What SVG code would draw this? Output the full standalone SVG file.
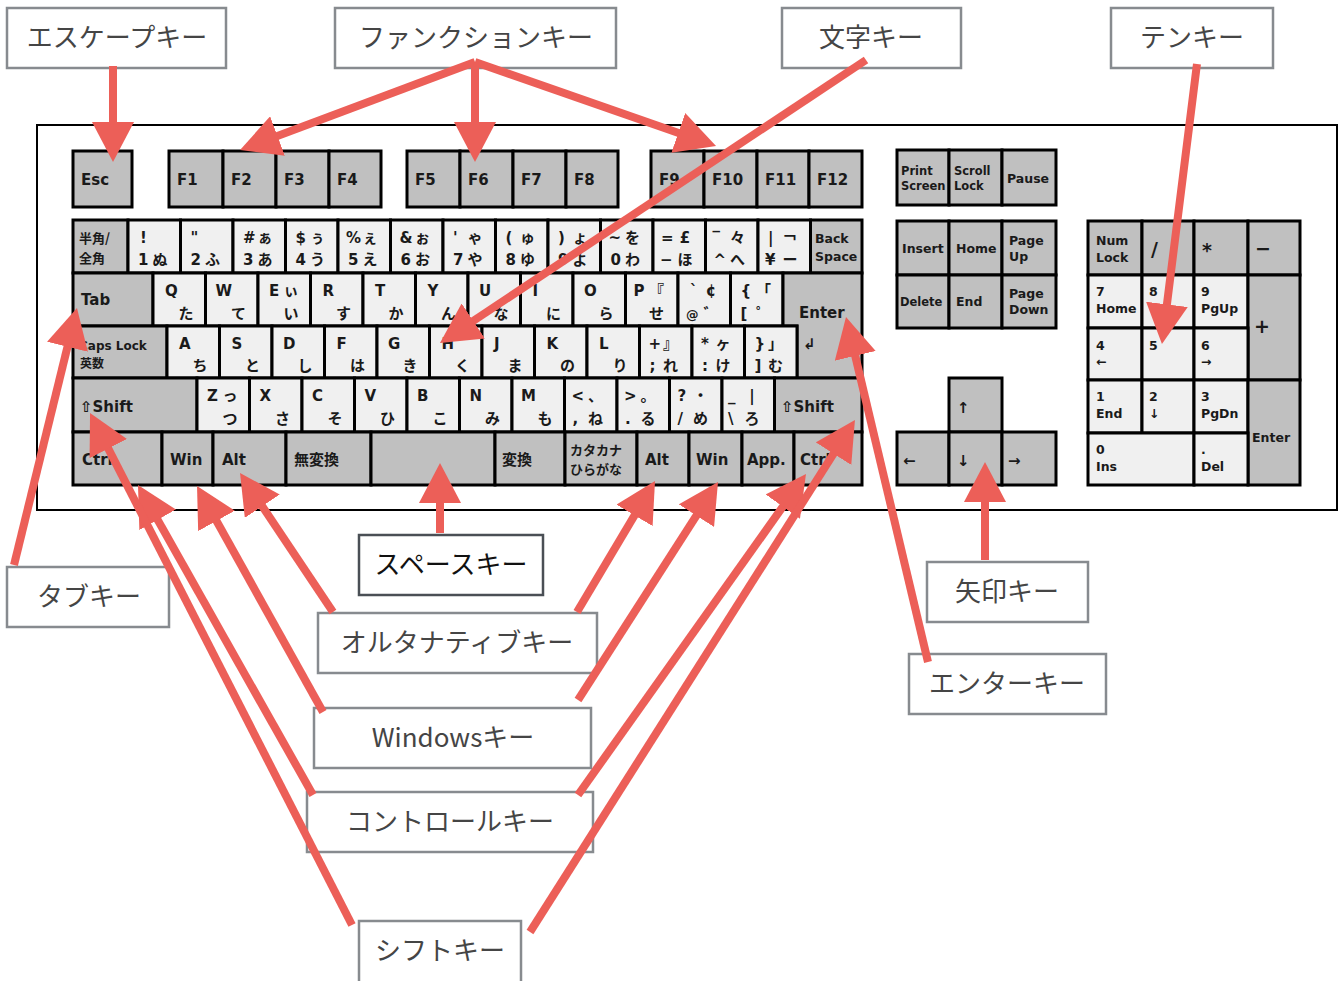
<svg xmlns="http://www.w3.org/2000/svg" width="1341" height="981" viewBox="0 0 1341 981">
<style>
.k{stroke:#000;stroke-width:3}
.g{fill:#c0c0c0}
.l{fill:#f0f0f0}
.t{font-family:"DejaVu Sans","Noto Sans CJK JP",sans-serif;font-weight:700;font-size:15px;fill:#1a1a1a}
.j{font-family:"Noto Sans CJK JP",sans-serif}
.m{text-anchor:middle}
.s{font-size:12.5px}
.x{font-size:11.5px}
.y{font-size:12px}
.z{font-size:13px}
.b{font-size:19px}
.lbl{fill:#fff;stroke:#878b8f;stroke-width:2.5}
.lt{font-family:"Noto Sans CJK JP","Noto Sans",sans-serif;font-size:26px;fill:#454545;text-anchor:middle;dominant-baseline:central}
.arr{stroke:#ec5f58;stroke-width:8;fill:none;stroke-linecap:butt;marker-end:url(#ah)}
</style>
<defs>
<marker id="ah" viewBox="0 0 40 42" refX="30" refY="21" markerWidth="40" markerHeight="42" markerUnits="userSpaceOnUse" orient="auto"><path d="M0,0L40,21L0,42z" fill="#ec5f58"/></marker>
</defs>
<rect width="1341" height="981" fill="#fff"/>
<g id="keyboard">
<rect x="37" y="125" width="1300" height="385" fill="#fff" stroke="#000" stroke-width="2"/>
<!-- function row -->
<g id="k-esc"><rect class="k g" x="73" y="151" width="59" height="56"/><text class="t" x="81" y="185">Esc</text></g>
<g id="k-f1"><rect class="k g" x="169" y="151" width="54" height="56"/><text class="t" x="177" y="185">F1</text></g>
<g id="k-f2"><rect class="k g" x="223" y="151" width="53" height="56"/><text class="t" x="231" y="185">F2</text></g>
<g id="k-f3"><rect class="k g" x="276" y="151" width="53" height="56"/><text class="t" x="284" y="185">F3</text></g>
<g id="k-f4"><rect class="k g" x="329" y="151" width="52" height="56"/><text class="t" x="337" y="185">F4</text></g>
<g id="k-f5"><rect class="k g" x="407" y="151" width="53" height="56"/><text class="t" x="415" y="185">F5</text></g>
<g id="k-f6"><rect class="k g" x="460" y="151" width="53" height="56"/><text class="t" x="468" y="185">F6</text></g>
<g id="k-f7"><rect class="k g" x="513" y="151" width="53" height="56"/><text class="t" x="521" y="185">F7</text></g>
<g id="k-f8"><rect class="k g" x="566" y="151" width="52" height="56"/><text class="t" x="574" y="185">F8</text></g>
<g id="k-f9"><rect class="k g" x="651" y="151" width="53" height="56"/><text class="t" x="659" y="185">F9</text></g>
<g id="k-f10"><rect class="k g" x="704" y="151" width="53" height="56"/><text class="t" x="712" y="185">F10</text></g>
<g id="k-f11"><rect class="k g" x="757" y="151" width="52" height="56"/><text class="t" x="765" y="185">F11</text></g>
<g id="k-f12"><rect class="k g" x="809" y="151" width="53" height="56"/><text class="t" x="817" y="185">F12</text></g>
<!-- number row -->
<g id="k-hankaku"><rect class="k g" x="73" y="220" width="55" height="53"/><text class="t j z" x="79" y="243">半角/</text><text class="t j z" x="79" y="263">全角</text></g>
<g id="k-1"><rect class="k l" x="128" y="220" width="52.5" height="53"/><text class="t" x="140" y="243">!</text><text class="t" x="138" y="265">1</text><text class="t m" x="160" y="265">ぬ</text></g>
<g id="k-2"><rect class="k l" x="180.5" y="220" width="52.5" height="53"/><text class="t" x="190.5" y="243">"</text><text class="t" x="190.5" y="265">2</text><text class="t m" x="212.5" y="265">ふ</text></g>
<g id="k-3"><rect class="k l" x="233" y="220" width="52.5" height="53"/><text class="t" x="243" y="243">#</text><text class="t m" x="265" y="243">ぁ</text><text class="t" x="243" y="265">3</text><text class="t m" x="265" y="265">あ</text></g>
<g id="k-4"><rect class="k l" x="285.5" y="220" width="52.5" height="53"/><text class="t" x="295.5" y="243">$</text><text class="t m" x="317.5" y="243">ぅ</text><text class="t" x="295.5" y="265">4</text><text class="t m" x="317.5" y="265">う</text></g>
<g id="k-5"><rect class="k l" x="338" y="220" width="52.5" height="53"/><text class="t" x="346" y="243">%</text><text class="t m" x="370" y="243">ぇ</text><text class="t" x="348" y="265">5</text><text class="t m" x="370" y="265">え</text></g>
<g id="k-6"><rect class="k l" x="390.5" y="220" width="52.5" height="53"/><text class="t" x="399.5" y="243">&amp;</text><text class="t m" x="422.5" y="243">ぉ</text><text class="t" x="400.5" y="265">6</text><text class="t m" x="422.5" y="265">お</text></g>
<g id="k-7"><rect class="k l" x="443" y="220" width="52.5" height="53"/><text class="t" x="453" y="243">'</text><text class="t m" x="475" y="243">ゃ</text><text class="t" x="453" y="265">7</text><text class="t m" x="475" y="265">や</text></g>
<g id="k-8"><rect class="k l" x="495.5" y="220" width="52.5" height="53"/><text class="t" x="505.5" y="243">(</text><text class="t m" x="527.5" y="243">ゅ</text><text class="t" x="505.5" y="265">8</text><text class="t m" x="527.5" y="265">ゆ</text></g>
<g id="k-9"><rect class="k l" x="548" y="220" width="52.5" height="53"/><text class="t" x="558" y="243">)</text><text class="t m" x="580" y="243">ょ</text><text class="t" x="558" y="265">9</text><text class="t m" x="580" y="265">よ</text></g>
<g id="k-0"><rect class="k l" x="600.5" y="220" width="52.5" height="53"/><text class="t" x="608.5" y="243">~</text><text class="t m" x="632.5" y="243">を</text><text class="t" x="610.5" y="265">0</text><text class="t m" x="632.5" y="265">わ</text></g>
<g id="k-minus"><rect class="k l" x="653" y="220" width="52.5" height="53"/><text class="t" x="661" y="243">=</text><text class="t m" x="685" y="243">£</text><text class="t" x="660" y="265">−</text><text class="t m" x="685" y="265">ほ</text></g>
<g id="k-caret"><rect class="k l" x="705.5" y="220" width="52.5" height="53"/><text class="t" x="712.5" y="243">‾</text><text class="t m" x="737.5" y="243">々</text><text class="t" x="713.5" y="265">^</text><text class="t m" x="737.5" y="265">へ</text></g>
<g id="k-yen"><rect class="k l" x="758" y="220" width="52.5" height="53"/><text class="t" x="768" y="243">|</text><text class="t m" x="790" y="243">￢</text><text class="t" x="765" y="265">¥</text><text class="t m" x="790" y="265">ー</text></g>
<g id="k-bs"><rect class="k g" x="810.5" y="220" width="51.5" height="53"/><text class="t s" x="815" y="243">Back</text><text class="t s" x="815" y="261">Space</text></g>
<!-- Q row -->
<g id="k-tab"><rect class="k g" x="73" y="273" width="80" height="53"/><text class="t" x="81" y="305">Tab</text></g>
<g id="k-q"><rect class="k l" x="153" y="273" width="52.5" height="53"/><text class="t" x="165" y="296">Q</text><text class="t m" x="186" y="319">た</text></g>
<g id="k-w"><rect class="k l" x="205.5" y="273" width="52.5" height="53"/><text class="t" x="215.5" y="296">W</text><text class="t m" x="238.5" y="319">て</text></g>
<g id="k-e"><rect class="k l" x="258" y="273" width="52.5" height="53"/><text class="t" x="269" y="296">E</text><text class="t m" x="291" y="296">ぃ</text><text class="t m" x="291" y="319">い</text></g>
<g id="k-r"><rect class="k l" x="310.5" y="273" width="52.5" height="53"/><text class="t" x="322.5" y="296">R</text><text class="t m" x="343.5" y="319">す</text></g>
<g id="k-t"><rect class="k l" x="363" y="273" width="52.5" height="53"/><text class="t" x="375" y="296">T</text><text class="t m" x="396" y="319">か</text></g>
<g id="k-y"><rect class="k l" x="415.5" y="273" width="52.5" height="53"/><text class="t" x="427.5" y="296">Y</text><text class="t m" x="448.5" y="319">ん</text></g>
<g id="k-u"><rect class="k l" x="468" y="273" width="52.5" height="53"/><text class="t" x="479" y="296">U</text><text class="t m" x="501" y="319">な</text></g>
<g id="k-i"><rect class="k l" x="520.5" y="273" width="52.5" height="53"/><text class="t" x="532.5" y="296">I</text><text class="t m" x="553.5" y="319">に</text></g>
<g id="k-o"><rect class="k l" x="573" y="273" width="52.5" height="53"/><text class="t" x="584" y="296">O</text><text class="t m" x="606" y="319">ら</text></g>
<g id="k-p"><rect class="k l" x="625.5" y="273" width="52.5" height="53"/><text class="t" x="633.5" y="296">P</text><text class="t m" x="656.5" y="296">『</text><text class="t m" x="656.5" y="319">せ</text></g>
<g id="k-at"><rect class="k l" x="678" y="273" width="52.5" height="53"/><text class="t" x="690" y="296">`</text><text class="t m" x="711" y="296">¢</text><text class="t s" x="686" y="319">@</text><text class="t m" x="711" y="319">゛</text></g>
<g id="k-lbr"><rect class="k l" x="730.5" y="273" width="52.5" height="53"/><text class="t" x="740.5" y="296">{</text><text class="t m" x="763.5" y="296">「</text><text class="t" x="740.5" y="319">[</text><text class="t m" x="763.5" y="319">゜</text></g>
<g id="k-enter"><path class="k g" d="M783,273H862V378H797V326H783Z"/><text class="t" x="799" y="318">Enter</text><text class="t" x="803" y="349">↲</text></g>
<!-- A row -->
<g id="k-caps"><rect class="k g" x="73" y="326" width="94" height="52"/><text class="t y" x="79" y="350">Caps Lock</text><text class="t j y" x="80" y="368">英数</text></g>
<g id="k-a"><rect class="k l" x="167" y="326" width="52.5" height="52"/><text class="t" x="179" y="349">A</text><text class="t m" x="200" y="371">ち</text></g>
<g id="k-s"><rect class="k l" x="219.5" y="326" width="52.5" height="52"/><text class="t" x="231.5" y="349">S</text><text class="t m" x="252.5" y="371">と</text></g>
<g id="k-d"><rect class="k l" x="272" y="326" width="52.5" height="52"/><text class="t" x="283" y="349">D</text><text class="t m" x="305" y="371">し</text></g>
<g id="k-f"><rect class="k l" x="324.5" y="326" width="52.5" height="52"/><text class="t" x="336.5" y="349">F</text><text class="t m" x="357.5" y="371">は</text></g>
<g id="k-g"><rect class="k l" x="377" y="326" width="52.5" height="52"/><text class="t" x="388" y="349">G</text><text class="t m" x="410" y="371">き</text></g>
<g id="k-h"><rect class="k l" x="429.5" y="326" width="52.5" height="52"/><text class="t" x="441.5" y="349">H</text><text class="t m" x="462.5" y="371">く</text></g>
<g id="k-j"><rect class="k l" x="482" y="326" width="52.5" height="52"/><text class="t" x="494" y="349">J</text><text class="t m" x="515" y="371">ま</text></g>
<g id="k-k"><rect class="k l" x="534.5" y="326" width="52.5" height="52"/><text class="t" x="546.5" y="349">K</text><text class="t m" x="567.5" y="371">の</text></g>
<g id="k-l"><rect class="k l" x="587" y="326" width="52.5" height="52"/><text class="t" x="599" y="349">L</text><text class="t m" x="620" y="371">り</text></g>
<g id="k-semi"><rect class="k l" x="639.5" y="326" width="52.5" height="52"/><text class="t" x="648.5" y="349">+</text><text class="t m" x="670.5" y="349">』</text><text class="t" x="649.5" y="371">;</text><text class="t m" x="670.5" y="371">れ</text></g>
<g id="k-colon"><rect class="k l" x="692" y="326" width="52.5" height="52"/><text class="t" x="701" y="349">*</text><text class="t m" x="723" y="349">ヶ</text><text class="t" x="702" y="371">:</text><text class="t m" x="723" y="371">け</text></g>
<g id="k-rbr"><rect class="k l" x="744.5" y="326" width="52.5" height="52"/><text class="t" x="754.5" y="349">}</text><text class="t m" x="775.5" y="349">」</text><text class="t" x="754.5" y="371">]</text><text class="t m" x="775.5" y="371">む</text></g>
<!-- Z row -->
<g id="k-lshift"><rect class="k g" x="73" y="378" width="124" height="54"/><text class="t" x="80" y="412">⇧Shift</text></g>
<g id="k-z"><rect class="k l" x="197" y="378" width="52.5" height="54"/><text class="t" x="207" y="401">Z</text><text class="t m" x="230" y="401">っ</text><text class="t m" x="230" y="424">つ</text></g>
<g id="k-x"><rect class="k l" x="249.5" y="378" width="52.5" height="54"/><text class="t" x="259.5" y="401">X</text><text class="t m" x="282.5" y="424">さ</text></g>
<g id="k-c"><rect class="k l" x="302" y="378" width="52.5" height="54"/><text class="t" x="312" y="401">C</text><text class="t m" x="335" y="424">そ</text></g>
<g id="k-v"><rect class="k l" x="354.5" y="378" width="52.5" height="54"/><text class="t" x="364.5" y="401">V</text><text class="t m" x="387.5" y="424">ひ</text></g>
<g id="k-b"><rect class="k l" x="407" y="378" width="52.5" height="54"/><text class="t" x="417" y="401">B</text><text class="t m" x="440" y="424">こ</text></g>
<g id="k-n"><rect class="k l" x="459.5" y="378" width="52.5" height="54"/><text class="t" x="469.5" y="401">N</text><text class="t m" x="492.5" y="424">み</text></g>
<g id="k-m"><rect class="k l" x="512" y="378" width="52.5" height="54"/><text class="t" x="521" y="401">M</text><text class="t m" x="545" y="424">も</text></g>
<g id="k-comma"><rect class="k l" x="564.5" y="378" width="52.5" height="54"/><text class="t" x="571.5" y="401">&lt;</text><text class="t m" x="595.5" y="401">、</text><text class="t" x="572.5" y="424">,</text><text class="t m" x="595.5" y="424">ね</text></g>
<g id="k-period"><rect class="k l" x="617" y="378" width="52.5" height="54"/><text class="t" x="624" y="401">&gt;</text><text class="t m" x="648" y="401">。</text><text class="t" x="625" y="424">.</text><text class="t m" x="648" y="424">る</text></g>
<g id="k-slash"><rect class="k l" x="669.5" y="378" width="52.5" height="54"/><text class="t" x="677.5" y="401">?</text><text class="t m" x="700.5" y="401">・</text><text class="t" x="677.5" y="424">/</text><text class="t m" x="700.5" y="424">め</text></g>
<g id="k-bslash"><rect class="k l" x="722" y="378" width="52.5" height="54"/><text class="t" x="728" y="401">_</text><text class="t m" x="752" y="401">|</text><text class="t" x="728" y="424">\</text><text class="t m" x="752" y="424">ろ</text></g>
<g id="k-rshift"><rect class="k g" x="774.5" y="378" width="87.5" height="54"/><text class="t" x="781" y="412">⇧Shift</text></g>
<!-- bottom row -->
<g id="k-lctrl"><rect class="k g" x="73" y="432" width="89" height="53"/><text class="t" x="82" y="465">Ctrl</text></g>
<g id="k-lwin"><rect class="k g" x="162" y="432" width="51" height="53"/><text class="t" x="170" y="465">Win</text></g>
<g id="k-lalt"><rect class="k g" x="213" y="432" width="73" height="53"/><text class="t" x="222" y="465">Alt</text></g>
<g id="k-muhenkan"><rect class="k g" x="286" y="432" width="85" height="53"/><text class="t j" x="294" y="465">無変換</text></g>
<g id="k-space"><rect class="k g" x="371" y="432" width="124" height="53"/></g>
<g id="k-henkan"><rect class="k g" x="495" y="432" width="70" height="53"/><text class="t j" x="502" y="465">変換</text></g>
<g id="k-kana"><rect class="k g" x="565" y="432" width="72" height="53"/><text class="t j z" x="570" y="455">カタカナ</text><text class="t j z" x="570" y="474">ひらがな</text></g>
<g id="k-ralt"><rect class="k g" x="637" y="432" width="52" height="53"/><text class="t" x="645" y="465">Alt</text></g>
<g id="k-rwin"><rect class="k g" x="689" y="432" width="53" height="53"/><text class="t" x="696" y="465">Win</text></g>
<g id="k-app"><rect class="k g" x="742" y="432" width="52" height="53"/><text class="t" x="747" y="465">App.</text></g>
<g id="k-rctrl"><rect class="k g" x="794" y="432" width="68" height="53"/><text class="t" x="800" y="465">Ctrl</text></g>
<!-- system keys -->
<g id="k-prtsc"><rect class="k g" x="897" y="150" width="52" height="55"/><text class="t x" x="901" y="175">Print</text><text class="t x" x="901" y="190">Screen</text></g>
<g id="k-scroll"><rect class="k g" x="949" y="150" width="53" height="55"/><text class="t x" x="954" y="175">Scroll</text><text class="t x" x="954" y="190">Lock</text></g>
<g id="k-pause"><rect class="k g" x="1002" y="150" width="54" height="55"/><text class="t s" x="1007" y="183">Pause</text></g>
<g id="k-insert"><rect class="k g" x="897" y="221" width="52" height="54"/><text class="t s" x="902" y="253">Insert</text></g>
<g id="k-home"><rect class="k g" x="949" y="221" width="53" height="54"/><text class="t s" x="956" y="253">Home</text></g>
<g id="k-pgup"><rect class="k g" x="1002" y="221" width="54" height="54"/><text class="t s" x="1009" y="245">Page</text><text class="t s" x="1009" y="261">Up</text></g>
<g id="k-delete"><rect class="k g" x="897" y="275" width="52" height="53"/><text class="t x" x="900" y="306">Delete</text></g>
<g id="k-end"><rect class="k g" x="949" y="275" width="53" height="53"/><text class="t s" x="956" y="306">End</text></g>
<g id="k-pgdn"><rect class="k g" x="1002" y="275" width="54" height="53"/><text class="t s" x="1009" y="298">Page</text><text class="t s" x="1009" y="314">Down</text></g>
<!-- arrow keys -->
<g id="k-up"><rect class="k g" x="949" y="378" width="53" height="54"/><text class="t" x="957" y="413">↑</text></g>
<g id="k-left"><rect class="k g" x="897" y="432" width="52" height="53"/><text class="t" x="903" y="466">←</text></g>
<g id="k-down"><rect class="k g" x="949" y="432" width="53" height="53"/><text class="t" x="957" y="466">↓</text></g>
<g id="k-right"><rect class="k g" x="1002" y="432" width="54" height="53"/><text class="t" x="1008" y="466">→</text></g>
<!-- numpad -->
<g id="k-numlock"><rect class="k g" x="1088" y="221" width="54" height="54"/><text class="t s" x="1096" y="245">Num</text><text class="t s" x="1096" y="262">Lock</text></g>
<g id="k-ndiv"><rect class="k g" x="1142" y="221" width="52" height="54"/><text class="t b" x="1151" y="256">/</text></g>
<g id="k-nmul"><rect class="k g" x="1194" y="221" width="54" height="54"/><text class="t b" x="1202" y="257">*</text></g>
<g id="k-nsub"><rect class="k g" x="1248" y="221" width="52" height="54"/><text class="t b" x="1255" y="255">−</text></g>
<g id="k-n7"><rect class="k l" x="1088" y="275" width="54" height="53"/><text class="t s" x="1096" y="296">7</text><text class="t s" x="1096" y="313">Home</text></g>
<g id="k-n8"><rect class="k l" x="1142" y="275" width="52" height="53"/><text class="t s" x="1149" y="296">8</text></g>
<g id="k-n9"><rect class="k l" x="1194" y="275" width="54" height="53"/><text class="t s" x="1201" y="296">9</text><text class="t s" x="1201" y="313">PgUp</text></g>
<g id="k-nadd"><rect class="k g" x="1248" y="275" width="52" height="105"/><text class="t b" x="1254" y="333">+</text></g>
<g id="k-n4"><rect class="k l" x="1088" y="328" width="54" height="52"/><text class="t s" x="1096" y="350">4</text><text class="t s" x="1096" y="366">←</text></g>
<g id="k-n5"><rect class="k l" x="1142" y="328" width="52" height="52"/><text class="t s" x="1149" y="350">5</text></g>
<g id="k-n6"><rect class="k l" x="1194" y="328" width="54" height="52"/><text class="t s" x="1201" y="350">6</text><text class="t s" x="1201" y="366">→</text></g>
<g id="k-n1"><rect class="k l" x="1088" y="380" width="54" height="53"/><text class="t s" x="1096" y="401">1</text><text class="t s" x="1096" y="418">End</text></g>
<g id="k-n2"><rect class="k l" x="1142" y="380" width="52" height="53"/><text class="t s" x="1149" y="401">2</text><text class="t s" x="1149" y="418">↓</text></g>
<g id="k-n3"><rect class="k l" x="1194" y="380" width="54" height="53"/><text class="t s" x="1201" y="401">3</text><text class="t s" x="1201" y="418">PgDn</text></g>
<g id="k-nenter"><rect class="k g" x="1248" y="380" width="52" height="105"/><text class="t s" x="1252" y="442">Enter</text></g>
<g id="k-n0"><rect class="k l" x="1088" y="433" width="106" height="52"/><text class="t s" x="1096" y="454">0</text><text class="t s" x="1096" y="471">Ins</text></g>
<g id="k-ndot"><rect class="k l" x="1194" y="433" width="54" height="52"/><text class="t s" x="1201" y="454">.</text><text class="t s" x="1201" y="471">Del</text></g>
</g>
<!-- callout labels -->
<g id="lbl-esc"><rect class="lbl" x="7" y="8" width="219" height="60"/><text class="lt" x="117" y="35">エスケープキー</text></g>
<g id="lbl-func"><rect class="lbl" x="335" y="8" width="281" height="60"/><text class="lt" x="476" y="35">ファンクションキー</text></g>
<g id="lbl-char"><rect class="lbl" x="782" y="8" width="179" height="60"/><text class="lt" x="871" y="35">文字キー</text></g>
<g id="lbl-tenkey"><rect class="lbl" x="1111" y="8" width="162" height="60"/><text class="lt" x="1192" y="35">テンキー</text></g>
<g id="lbl-tab"><rect class="lbl" x="7" y="567" width="162" height="60"/><text class="lt" x="89" y="594">タブキー</text></g>
<g id="lbl-space"><rect x="359" y="535" width="184" height="60" fill="#fff" stroke="#4a4f55" stroke-width="2.5"/><text class="lt" x="451" y="562" style="fill:#111">スペースキー</text></g>
<g id="lbl-alt"><rect class="lbl" x="318" y="613" width="279" height="60"/><text class="lt" x="457" y="640">オルタナティブキー</text></g>
<g id="lbl-win"><rect class="lbl" x="314" y="708" width="277" height="60"/><text class="lt" x="453" y="735">Windowsキー</text></g>
<g id="lbl-ctrl"><rect class="lbl" x="307" y="792" width="286" height="60"/><text class="lt" x="450" y="819">コントロールキー</text></g>
<g id="lbl-shift"><rect class="lbl" x="359" y="921" width="162" height="64"/><text class="lt" x="440" y="948">シフトキー</text></g>
<g id="lbl-arrow"><rect class="lbl" x="927" y="562" width="161" height="60"/><text class="lt" x="1007" y="589">矢印キー</text></g>
<g id="lbl-enter"><rect class="lbl" x="909" y="654" width="197" height="60"/><text class="lt" x="1007" y="681">エンターキー</text></g>
<!-- connectors -->
<g id="connectors">
<line class="arr" x1="113" y1="66" x2="113" y2="152"/>
<line class="arr" x1="475" y1="62" x2="249.4" y2="146.5"/>
<line class="arr" x1="475" y1="62" x2="475" y2="152"/>
<line class="arr" x1="475" y1="62" x2="706.6" y2="142.7"/>
<line class="arr" x1="866" y1="60" x2="448.3" y2="337.5"/>
<line class="arr" x1="1197" y1="64" x2="1163.2" y2="334.1"/>
<line class="arr" x1="14" y1="565" x2="74.6" y2="317.7"/>
<line class="arr" x1="440" y1="533" x2="440" y2="473"/>
<line class="arr" x1="333" y1="612" x2="245.6" y2="481.3"/>
<line class="arr" x1="577" y1="612" x2="649.9" y2="489.6"/>
<line class="arr" x1="323" y1="712" x2="201.9" y2="494.7"/>
<line class="arr" x1="578" y1="700" x2="712.6" y2="490.4"/>
<line class="arr" x1="313" y1="795" x2="142.9" y2="493.7"/>
<line class="arr" x1="578" y1="795" x2="800.2" y2="482.2"/>
<line class="arr" x1="352" y1="925" x2="94.6" y2="421.9"/>
<line class="arr" x1="530" y1="932" x2="849.6" y2="428.4"/>
<line class="arr" x1="985" y1="560" x2="985" y2="472"/>
<line class="arr" x1="928" y1="662" x2="848.3" y2="326.7"/>
</g>
</svg>
